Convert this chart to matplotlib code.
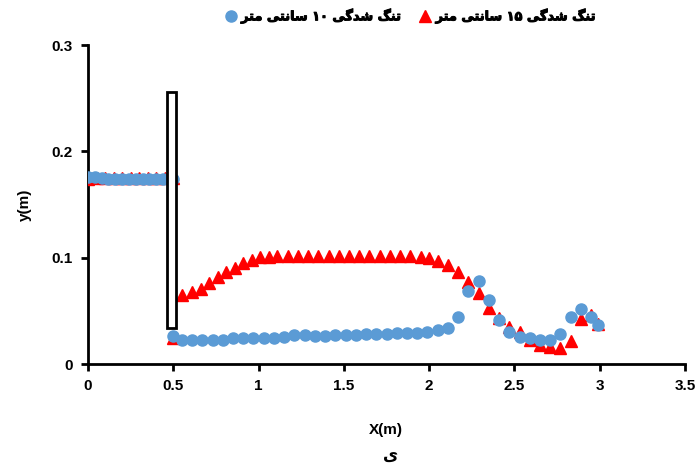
import matplotlib
matplotlib.use('Agg')
import matplotlib.pyplot as plt
import matplotlib.patches as patches
import matplotlib.patheffects as pe
from matplotlib.lines import Line2D

plt.rcParams['font.family'] = ['Liberation Sans', 'DejaVu Sans']
plt.rcParams['font.weight'] = 'bold'

# series 1: 10 cm constriction (blue circles)
x_10 = [0.0, 0.04, 0.08, 0.12, 0.16, 0.20, 0.24, 0.28, 0.32, 0.36, 0.40, 0.44, 0.50,
        0.50, 0.55, 0.61, 0.67, 0.73, 0.79, 0.85, 0.91, 0.97, 1.03, 1.09, 1.15,
        1.21, 1.27, 1.33, 1.39, 1.45, 1.51, 1.57, 1.63, 1.69, 1.75, 1.81, 1.87,
        1.93, 1.99, 2.05, 2.11, 2.17, 2.23, 2.29, 2.35, 2.41, 2.47, 2.53, 2.59,
        2.65, 2.71, 2.77, 2.83, 2.89, 2.95, 2.99]
y_10 = [0.176, 0.176, 0.175, 0.174, 0.174, 0.174, 0.174, 0.174, 0.174, 0.174, 0.174, 0.174, 0.174,
        0.026, 0.023, 0.023, 0.023, 0.023, 0.023, 0.024, 0.024, 0.024, 0.024, 0.024, 0.025,
        0.027, 0.027, 0.026, 0.026, 0.027, 0.027, 0.027, 0.028, 0.028, 0.028, 0.029, 0.029,
        0.029, 0.030, 0.032, 0.034, 0.044, 0.069, 0.078, 0.060, 0.041, 0.030, 0.025, 0.024,
        0.023, 0.023, 0.028, 0.044, 0.052, 0.044, 0.037]

# series 2: 15 cm constriction (red triangles)
x_15 = [0.0, 0.05, 0.10, 0.15, 0.20, 0.25, 0.30, 0.35, 0.40, 0.45, 0.50,
        0.50, 0.55, 0.61, 0.66, 0.71, 0.76, 0.81, 0.86, 0.91, 0.96, 1.01, 1.06, 1.11,
        1.17, 1.23, 1.29, 1.35, 1.41, 1.47, 1.53, 1.59, 1.65, 1.71, 1.77, 1.83,
        1.89, 1.95, 2.00, 2.05, 2.11, 2.17, 2.23, 2.29, 2.35, 2.41, 2.47, 2.53,
        2.59, 2.65, 2.71, 2.77, 2.83, 2.89, 2.95, 2.99]
y_15 = [0.174, 0.175, 0.175, 0.175, 0.175, 0.175, 0.175, 0.175, 0.175, 0.175, 0.175,
        0.024, 0.065, 0.068, 0.071, 0.076, 0.082, 0.087, 0.090, 0.095, 0.098, 0.101, 0.101, 0.102,
        0.102, 0.102, 0.102, 0.102, 0.102, 0.102, 0.102, 0.102, 0.102, 0.102, 0.102, 0.102,
        0.102, 0.101, 0.100, 0.097, 0.093, 0.087, 0.077, 0.067, 0.053, 0.043, 0.035, 0.030,
        0.023, 0.018, 0.016, 0.015, 0.022, 0.042, 0.046, 0.038]

# Persian labels, pre-shaped (presentation forms, visual order)
lbl_10 = '\uFEAE\uFE98\uFEE3 \uFBFD\uFE98\uFEE7\uFE8E\uFEB3 \u06F1\u06F0 \uFBFD\uFB94\uFEAA\uFEB7 \uFB93\uFEE8\uFE97'
lbl_15 = '\uFEAE\uFE98\uFEE3 \uFBFD\uFE98\uFEE7\uFE8E\uFEB3 \u06F1\u06F5 \uFBFD\uFB94\uFEAA\uFEB7 \uFB93\uFEE8\uFE97'
caption = '\u06CC'
fa_font = ['DejaVu Sans']
fake_bold = [pe.withStroke(linewidth=0.7, foreground='black')]

fig = plt.figure(figsize=(6.97, 4.68), dpi=100)
ax = fig.add_axes([0.1263, 0.2222, 0.8565, 0.6816])

ax.plot(x_15, y_15, linestyle='none', marker='^', markersize=8,
        color='#FF0000', zorder=3)
ax.plot(x_10, y_10, linestyle='none', marker='o', markersize=8,
        color='#5B9BD5', zorder=4)

# gate
gate = patches.Rectangle((0.461, 0.034), 0.055, 0.222, facecolor='white',
                         edgecolor='black', linewidth=2, zorder=5)
ax.add_patch(gate)

ax.set_xlim(0, 3.5)
ax.set_ylim(0, 0.3)
ax.set_xticks([0, 0.5, 1, 1.5, 2, 2.5, 3, 3.5])
ax.set_xticklabels(['0', '0.5', '1', '1.5', '2', '2.5', '3', '3.5'])
ax.set_yticks([0, 0.1, 0.2, 0.3])
ax.set_yticklabels(['0', '0.1', '0.2', '0.3'])
for s in ['top', 'right']:
    ax.spines[s].set_visible(False)
for s in ['left', 'bottom']:
    ax.spines[s].set_linewidth(2)
ax.tick_params(direction='out', length=5, width=2, labelsize=11, pad=6)
for t in ax.get_xticklabels() + ax.get_yticklabels():
    t.set_fontweight('bold')

ax.set_ylabel('y(m)', fontsize=11, fontweight='bold', labelpad=14)
fig.text(0.554, 0.081, 'X(m)', ha='center', va='center', fontsize=11, fontweight='bold')
fig.text(0.56, 0.025, caption, ha='center', va='center', fontsize=12, family=fa_font)

handles = [Line2D([], [], linestyle='none', marker='o', markersize=8, color='#5B9BD5'),
           Line2D([], [], linestyle='none', marker='^', markersize=8, color='#FF0000')]
leg = fig.legend(handles, [lbl_10, lbl_15], loc='center', bbox_to_anchor=(0.588, 0.966),
                 ncol=2, frameon=False, handletextpad=0.3, columnspacing=1.4,
                 handlelength=1.0, prop={'family': fa_font, 'weight': 'bold', 'size': 9.3})
for t in leg.get_texts():
    t.set_path_effects(fake_bold)

fig.savefig('out.png', dpi=100)
